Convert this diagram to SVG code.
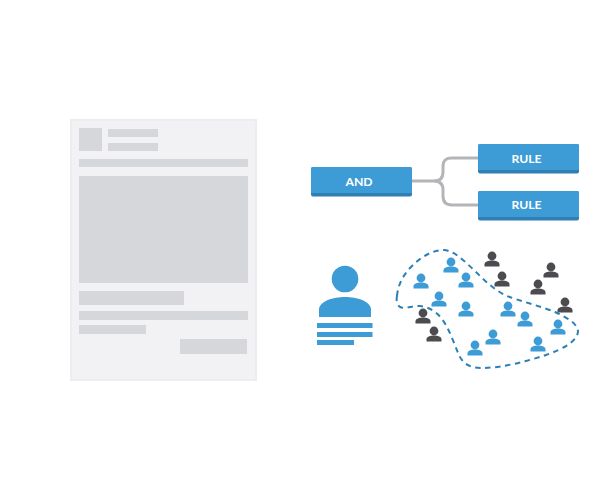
<svg xmlns="http://www.w3.org/2000/svg" xmlns:xlink="http://www.w3.org/1999/xlink" width="600" height="500" viewBox="0 0 600 500">
<style>
.g{fill:#d6d7da}
.b{fill:#3d9bd6}
.s{fill:#2f7fb5}
.t{font-family:"Lato","Liberation Sans",sans-serif;font-weight:700;font-size:12.200px;fill:#fff;text-anchor:middle}
.c{fill:none;stroke:#b4b5b8;stroke-width:3}
.p1{fill:#3d9bd6}
.p2{fill:#4b4b50}
</style>
<defs>
<g id="person">
<circle cx="0" cy="0" r="4.400"/>
<path d="M-7.500 10.500V8.200C-7.500 5.600-3.800 4.400 0 4.400S7.500 5.600 7.500 8.200V10.500Z"/>
</g>
<g id="box">
<rect x="0" y="0" width="101" height="29.500" rx="2" class="s"/>
<path d="M2 0H99A2 2 0 0 1 101 2V26H0V2A2 2 0 0 1 2 0Z" class="b"/>
</g>
</defs>
<rect width="600" height="500" fill="#fff"/>
<g id="document">
<rect x="71" y="120" width="185" height="260" fill="#f2f2f4" stroke="#ededf0" stroke-width="2"/>
<rect class="g" x="79" y="128" width="23" height="23"/>
<rect class="g" x="108" y="129" width="50" height="8"/>
<rect class="g" x="108" y="143" width="50" height="8"/>
<rect class="g" x="79" y="159" width="169" height="8"/>
<rect class="g" x="79" y="176" width="169" height="107"/>
<rect class="g" x="79" y="291" width="105" height="14"/>
<rect class="g" x="79" y="311" width="169" height="9"/>
<rect class="g" x="79" y="325" width="67" height="9"/>
<rect class="g" x="180" y="339" width="67" height="15"/>
</g>
<g id="connectors">
<path class="c" d="M411 181H434C440 181 443 178 443 172V166C443 160 446 158 452 158H478"/>
<path class="c" d="M434 181C440 181 443 184 443 190V196C443 202 446 205 452 205H478"/>
</g>
<g id="node-and">
<use xlink:href="#box" href="#box" x="311" y="167"/>
<text class="t" x="359" y="185.500">AND</text>
</g>
<g id="node-rule-1">
<use xlink:href="#box" href="#box" x="478" y="144"/>
<text class="t" x="526.500" y="162.500">RULE</text>
</g>
<g id="node-rule-2">
<use xlink:href="#box" href="#box" x="478" y="191"/>
<text class="t" x="526.500" y="209">RULE</text>
</g>
<g id="user">
<circle class="b" cx="345" cy="279" r="13.300"/>
<path class="b" d="M319 317V309C320 301 333 297 345 297S370 301 371 309V317Z"/>
<rect class="b" x="317" y="323" width="55.500" height="5"/>
<rect class="b" x="317" y="332" width="55.500" height="5"/>
<rect class="b" x="317" y="340" width="37" height="5"/>
</g>
<g id="segment">
<path fill="none" stroke="#2c80b4" stroke-width="2" stroke-dasharray="5.500 4.500" d="M397 296C398 285 403 275 411 267C421 257 432 250 444 250C455 251 464 261 474 270C484 280 494 290 507 296C520 301 540 306 555 312C566 317 577 323 578 331C578 341 563 349 546 355C525 362 500 368 482 368C470 368 463 364 459 355C454 344 450 330 442 319C436 311 428 307 420 306C412 306 404 309 400 307C397 305 396 300 397 296Z"/>
</g>
<g id="people-blue" class="p1">
<use xlink:href="#person" href="#person" x="421" y="278"/>
<use xlink:href="#person" href="#person" x="439" y="296"/>
<use xlink:href="#person" href="#person" x="451" y="262"/>
<use xlink:href="#person" href="#person" x="466" y="277"/>
<use xlink:href="#person" href="#person" x="466" y="306"/>
<use xlink:href="#person" href="#person" x="508" y="306"/>
<use xlink:href="#person" href="#person" x="525" y="316"/>
<use xlink:href="#person" href="#person" x="558" y="324"/>
<use xlink:href="#person" href="#person" x="538" y="341"/>
<use xlink:href="#person" href="#person" x="493" y="334"/>
<use xlink:href="#person" href="#person" x="475" y="345"/>
</g>
<g id="people-dark" class="p2">
<use xlink:href="#person" href="#person" x="492" y="256"/>
<use xlink:href="#person" href="#person" x="502" y="276"/>
<use xlink:href="#person" href="#person" x="551" y="267"/>
<use xlink:href="#person" href="#person" x="538" y="284"/>
<use xlink:href="#person" href="#person" x="565" y="302"/>
<use xlink:href="#person" href="#person" x="423" y="313"/>
<use xlink:href="#person" href="#person" x="434" y="331"/>
</g>
</svg>
